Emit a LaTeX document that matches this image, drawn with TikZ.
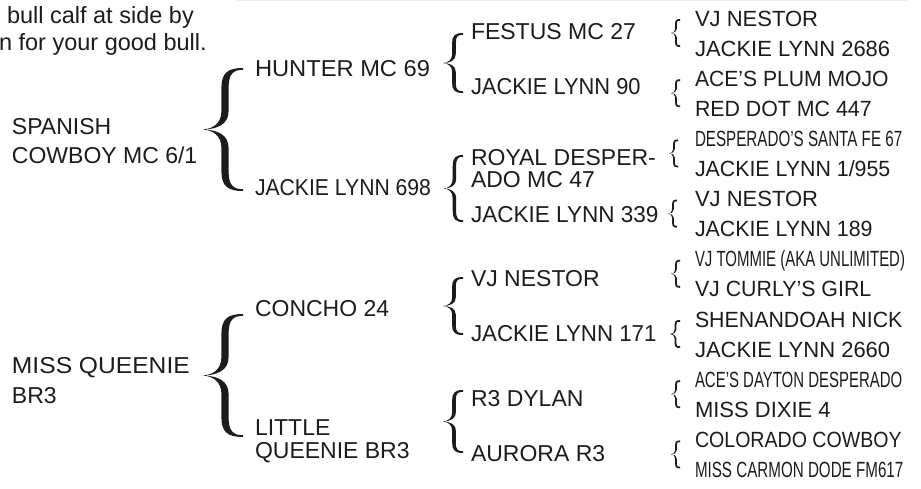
\documentclass[tikz,border=0pt]{standalone}
\usepackage{fontspec}
\setmainfont{Liberation Sans}
\usepackage{graphicx}
\definecolor{ink}{RGB}{30,27,28}
\definecolor{faint}{RGB}{236,236,236}
\newcommand{\hs}[2]{\scalebox{#1}[1]{#2}}
% curly brace: tip x, end x, top y, bottom y
\newcommand{\mybrace}[4]{%
  \pgfmathsetmacro\mybet{1-1.8/(((#4)-(#3))/2)}%
  \begin{scope}[shift={(#1,{((#3)+(#4))/2})}, xscale={(#2)-(#1)}, yscale={((#4)-(#3))/2}]
    \fill[ink] (1,1) .. controls (0.62,1) and (0.46,0.92) .. (0.46,0.68)
      -- (0.46,0.3) .. controls (0.46,0.1) and (0.25,0.012) .. (0,0)
      .. controls (0.25,-0.012) and (0.46,-0.1) .. (0.46,-0.3)
      -- (0.46,-0.68) .. controls (0.46,-0.92) and (0.62,-1) .. (1,-1)
      -- (1,-\mybet) .. controls (0.75,-\mybet) and (0.64,-0.9) .. (0.64,-0.68)
      -- (0.64,-0.3) .. controls (0.64,-0.08) and (0.35,-0.005) .. (0,0)
      .. controls (0.35,0.005) and (0.64,0.08) .. (0.64,0.3)
      -- (0.64,0.68) .. controls (0.64,0.9) and (0.75,\mybet) .. (1,\mybet) -- cycle;
  \end{scope}}
\begin{document}
\begin{tikzpicture}[x=1pt,y=-1pt,
  lbl/.style={anchor=base west, inner sep=0pt, outer sep=0pt, text=ink, font=\fontsize{23}{27}\selectfont},
  rlbl/.style={lbl, font=\fontsize{22}{26}\selectfont},
  intro/.style={lbl, font=\fontsize{23.5}{27}\selectfont}]
\useasboundingbox (0,0) rectangle (921,488);
\draw[faint, line width=1pt] (237,0.5) -- (907,0.5);

% intro text (cut off at the left)
\node[intro] (intro1) at (7,23) {bull calf at side by};
\node[intro] (intro2) at (-1,50) {n for your good bull.};

% column 1
\node[lbl] (sc1) at (12,134) {SPANISH};
\node[lbl] (sc2) at (12,163) {COWBOY MC 6/1};
\node[lbl] (mq1) at (12,373) {\hs{1.07}{MISS QUEENIE}};
\node[lbl] (mq2) at (12,403) {BR3};

\mybrace{203}{243}{68}{191}
\mybrace{203}{243}{314}{437}

% column 2
\node[lbl] (hunter) at (255,76) {\hs{1.03}{HUNTER MC 69}};
\node[lbl] (jl698) at (255,195) {\hs{0.92}{JACKIE LYNN 698}};
\node[lbl] (concho) at (255,316) {CONCHO 24};
\node[lbl] (lq1) at (255,435) {LITTLE};
\node[lbl] (lq2) at (255,458) {QUEENIE BR3};

\mybrace{443}{463}{33}{93}
\mybrace{444}{463}{155}{222}
\mybrace{443}{463}{277}{335}
\mybrace{443}{463}{390}{453}

% column 3
\node[lbl] (festus) at (471,39) {FESTUS MC 27};
\node[lbl] (jl90) at (471,94) {\hs{0.95}{JACKIE LYNN 90}};
\node[lbl] (royal1) at (471,165) {ROYAL DESPER-};
\node[lbl] (royal2) at (471,187) {ADO MC 47};
\node[lbl] (jl339) at (471,222) {\hs{0.98}{JACKIE LYNN 339}};
\node[lbl] (vjn) at (471,286) {VJ NESTOR};
\node[lbl] (jl171) at (471,341) {\hs{0.97}{JACKIE LYNN 171}};
\node[lbl] (dylan) at (471,406) {R3 DYLAN};
\node[lbl] (aurora) at (471,461) {AURORA R3};

% small braces
\mybrace{671}{680}{19}{47}
\mybrace{671}{680}{79.2}{107.2}
\mybrace{669}{678}{139.4}{167.4}
\mybrace{668}{677}{199.6}{227.6}
\mybrace{671}{680}{259.8}{287.8}
\mybrace{670}{680}{320}{348}
\mybrace{671}{680}{380.2}{408.2}
\mybrace{671}{680}{440.4}{468.4}

% column 4
\node[rlbl] (r0) at (695,26) {VJ NESTOR};
\node[rlbl] (r1) at (695,56.1) {JACKIE LYNN 2686};
\node[rlbl] (r2) at (695,86.2) {\hs{0.96}{ACE’S PLUM MOJO}};
\node[rlbl] (r3) at (695,116.3) {\hs{0.97}{RED DOT MC 447}};
\node[rlbl] (r4) at (695,146.4) {\hs{0.69}{DESPERADO’S SANTA FE 67}};
\node[rlbl] (r5) at (695,176.5) {\hs{0.97}{JACKIE LYNN 1/955}};
\node[rlbl] (r6) at (695,206.6) {VJ NESTOR};
\node[rlbl] (r7) at (695,236.7) {\hs{0.97}{JACKIE LYNN 189}};
\node[rlbl] (r8) at (695,266.8) {\hs{0.68}{VJ TOMMIE (AKA UNLIMITED)}};
\node[rlbl] (r9) at (695,296.9) {\hs{0.97}{VJ CURLY’S GIRL}};
\node[rlbl] (r10) at (695,327) {\hs{0.97}{SHENANDOAH NICK}};
\node[rlbl] (r11) at (695,357.1) {JACKIE LYNN 2660};
\node[rlbl] (r12) at (695,387.2) {\hs{0.68}{ACE’S DAYTON DESPERADO}};
\node[rlbl] (r13) at (695,417.3) {MISS DIXIE 4};
\node[rlbl] (r14) at (695,447.4) {\hs{0.89}{COLORADO COWBOY}};
\node[rlbl] (r15) at (695,477.5) {\hs{0.69}{MISS CARMON DODE FM617}};
\end{tikzpicture}
\end{document}
